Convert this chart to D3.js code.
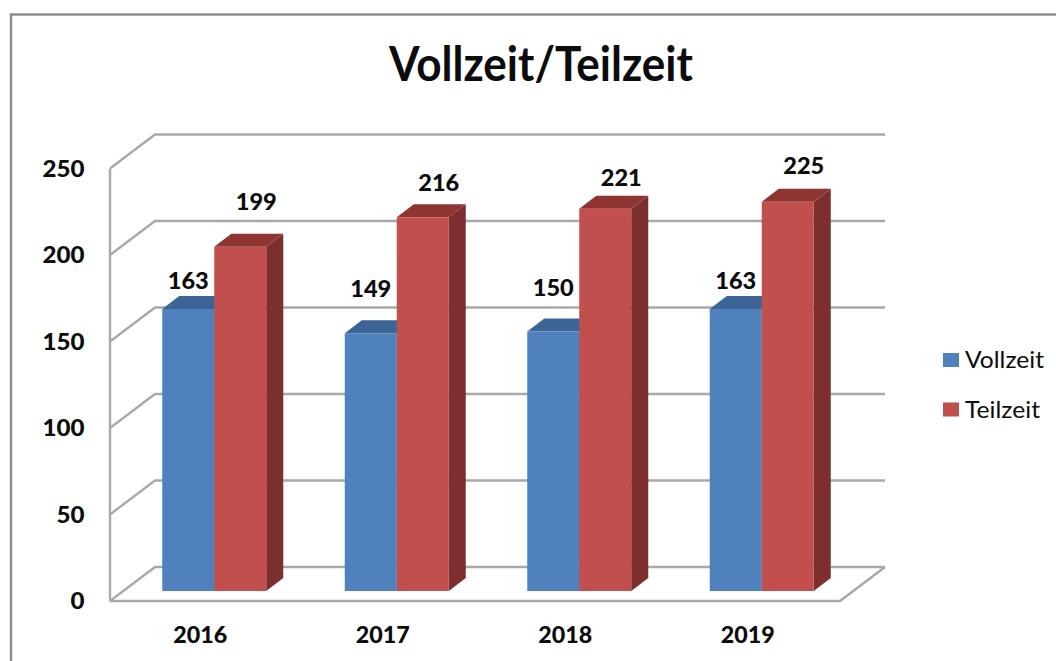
<!DOCTYPE html>
<html>
<head>
<meta charset="utf-8">
<title>Vollzeit/Teilzeit</title>
<script src="https://cdn.jsdelivr.net/npm/d3@7"></script>
<style>
  html, body { margin: 0; padding: 0; background: #fff; }
  svg { display: block; }
  text { fill: #0c0c0c; }
</style>
</head>
<body>
<script>
// chart values
var years = ['2016', '2017', '2018', '2019'];
var vollzeit = [163, 149, 150, 163];
var teilzeit = [199, 216, 221, 225];
var yTicks = [0, 50, 100, 150, 200, 250];

// hand placed label shifts in the original chart (pixels above the bar top)
var vollLift = [28, 45, 44, 28];
var teilLift = [45, 35, 31, 36];

var width = 1056, height = 661;
var depthX = 45, depthY = 34;      // wall depth
var barDepthX = 17, barDepthY = 13;
var barWidth = 52;

var svg = d3.select('body').append('svg')
  .attr('width', width)
  .attr('height', height);

var defs = svg.append('defs');
defs.append('filter').attr('id', 'soft')
  .append('feGaussianBlur').attr('stdDeviation', 0.45);

var chart = svg.append('g').attr('filter', 'url(#soft)');

// outer frame, only top and left are in the photo
chart.append('path')
  .attr('d', 'M11,661V14.5H1056')
  .attr('fill', 'none')
  .attr('stroke', '#8e8e8e')
  .attr('stroke-width', 2.5);

// scales
var x = d3.scaleBand().domain(years).range([110, 840]);
var y = d3.scaleLinear().domain([0, 250]).range([601, 168.5]);
var barY = d3.scaleLinear().domain([0, 250]).range([591, 158.5]);

// walls and floor
var gridColor = '#a9a9a9';
var walls = chart.append('g')
  .attr('fill', 'none')
  .attr('stroke', gridColor)
  .attr('stroke-width', 2.4);

yTicks.forEach(function(t) {
  walls.append('path')
    .attr('d', 'M' + x.range()[0] + ',' + y(t) + 'l' + depthX + ',' + (-depthY) + 'H885');
});
walls.append('path')
  .attr('d', 'M' + x.range()[0] + ',' + y(0) + 'V' + y(250));
walls.append('path')
  .attr('d', 'M' + x.range()[0] + ',' + y(0) + 'H' + x.range()[1] + 'l' + depthX + ',' + (-depthY));

function drawBar(g, left, value, front, top, side) {
  var yTop = barY(value);
  var yBase = barY(0);
  // top face
  g.append('path')
    .attr('d', 'M' + left + ',' + yTop + 'l' + barDepthX + ',' + (-barDepthY) +
      'h' + barWidth + 'l' + (-barDepthX) + ',' + barDepthY + 'z')
    .attr('fill', top);
  // side face
  g.append('path')
    .attr('d', 'M' + (left + barWidth) + ',' + yTop + 'l' + barDepthX + ',' + (-barDepthY) +
      'V' + (yBase - barDepthY) + 'l' + (-barDepthX) + ',' + barDepthY + 'z')
    .attr('fill', side);
  // front face
  g.append('rect')
    .attr('x', left)
    .attr('y', yTop)
    .attr('width', barWidth)
    .attr('height', yBase - yTop)
    .attr('fill', front);
}

var bars = chart.append('g');
years.forEach(function(year, i) {
  var center = x(year) + x.bandwidth() / 2 + 13;
  drawBar(bars, center - barWidth, vollzeit[i], '#4f81bd', '#3b6597', '#385d8a');
  drawBar(bars, center, teilzeit[i], '#c0504d', '#8e3533', '#7d2f2d');
});

var labels = svg.append('g')
  .attr('font-family', 'Lato, sans-serif')
  .attr('font-weight', 900)
  .attr('font-size', 23);

// y axis labels
labels.selectAll('.ytick')
  .data(yTicks)
  .enter().append('text')
  .attr('class', 'ytick')
  .attr('x', 84.5)
  .attr('y', function(d) { return y(d); })
  .attr('dy', '0.36em')
  .attr('text-anchor', 'end')
  .attr('textLength', function(d) { return String(d).length * 14; })
  .attr('lengthAdjust', 'spacingAndGlyphs')
  .text(function(d) { return d; });

// category labels
labels.selectAll('.xtick')
  .data(years)
  .enter().append('text')
  .attr('class', 'xtick')
  .attr('x', function(d) { return x(d) + x.bandwidth() / 2 - 1; })
  .attr('y', 643)
  .attr('text-anchor', 'middle')
  .attr('textLength', 54)
  .attr('lengthAdjust', 'spacingAndGlyphs')
  .text(function(d) { return d; });

// value labels
function valueLabels(values, lift, shift) {
  labels.selectAll(null)
    .data(values)
    .enter().append('text')
    .attr('x', function(d, i) { return x(years[i]) + x.bandwidth() / 2 + shift; })
    .attr('y', function(d, i) { return barY(d) - lift[i]; })
    .attr('dy', '0.36em')
    .attr('text-anchor', 'middle')
    .attr('textLength', 41)
    .attr('lengthAdjust', 'spacingAndGlyphs')
    .text(function(d) { return d; });
}
valueLabels(vollzeit, vollLift, -13);
valueLabels(teilzeit, teilLift, 55);

// title
svg.append('text')
  .attr('x', 541)
  .attr('y', 81)
  .attr('text-anchor', 'middle')
  .attr('font-family', 'Lato, sans-serif')
  .attr('font-weight', 700)
  .attr('font-size', 47)
  .attr('textLength', 304)
  .attr('lengthAdjust', 'spacingAndGlyphs')
  .text('Vollzeit/Teilzeit');

// legend
var legendNames = ['Vollzeit', 'Teilzeit'];
var legendColors = ['#4f81bd', '#c0504d'];
var legend = svg.selectAll('.legend')
  .data(legendNames)
  .enter().append('g')
  .attr('class', 'legend')
  .attr('transform', function(d, i) { return 'translate(943,' + (353 + i * 49.5) + ')'; });
legend.append('rect')
  .attr('width', 16)
  .attr('height', 14)
  .attr('fill', function(d, i) { return legendColors[i]; });
legend.append('text')
  .attr('x', 22)
  .attr('y', 15)
  .attr('font-family', 'Lato, sans-serif')
  .attr('font-size', 23)
  .attr('textLength', function(d, i) { return i === 0 ? 79 : 75; })
  .attr('lengthAdjust', 'spacingAndGlyphs')
  .text(function(d) { return d; });
</script>
</body>
</html>
